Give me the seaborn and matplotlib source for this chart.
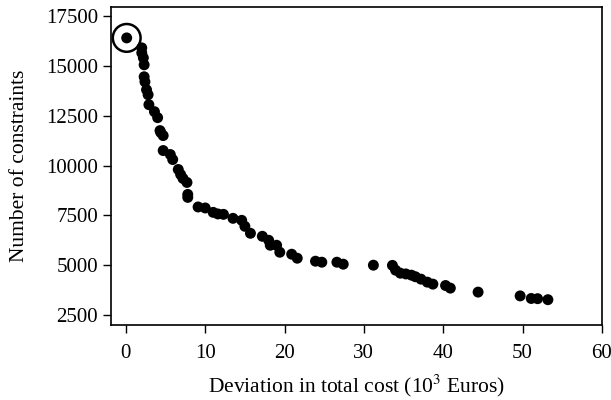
import matplotlib
matplotlib.use("Agg")
import matplotlib.pyplot as plt
import seaborn as sns
import pandas as pd

deviation = [0.1, 2.0, 2.0, 2.2, 2.3, 2.3, 2.4, 2.6, 2.8, 2.9, 3.6, 4.0, 4.3, 4.4, 4.7,
             4.7, 5.6, 5.9, 6.6, 6.9, 7.2, 7.7, 7.8, 7.8, 9.1, 10.0, 11.0, 11.6, 12.3,
             13.5, 14.6, 15.0, 15.7, 17.2, 18.0, 18.2, 19.0, 19.4, 20.9, 21.6, 23.9,
             24.7, 26.6, 27.4, 31.2, 33.6, 34.0, 34.6, 35.3, 36.0, 36.5, 37.2, 38.0,
             38.7, 40.3, 40.9, 44.4, 49.7, 51.1, 51.9, 53.2]
constraints = [16400, 15900, 15650, 15400, 15050, 14450, 14200, 13800, 13550, 13050,
               12700, 12400, 11750, 11650, 11500, 10750, 10550, 10300, 9800, 9550,
               9350, 9150, 8550, 8400, 7920, 7870, 7650, 7570, 7550, 7350, 7250, 6950,
               6600, 6450, 6250, 6000, 6000, 5650, 5550, 5350, 5200, 5150, 5150, 5050,
               5000, 4990, 4750, 4600, 4560, 4500, 4420, 4300, 4150, 4050, 3980, 3850,
               3650, 3460, 3330, 3320, 3270]
highlight_x = [0.1]
highlight_y = [16400]

x_ticks = [0, 10, 20, 30, 40, 50, 60]
y_ticks = [2500, 5000, 7500, 10000, 12500, 15000, 17500]

sns.set_style("ticks")
plt.rcParams['font.family'] = ['Liberation Serif', 'DejaVu Serif']
plt.rcParams['mathtext.fontset'] = 'stix'
plt.rcParams['text.color'] = 'black'
plt.rcParams['axes.labelcolor'] = 'black'

df = pd.DataFrame({"dev": deviation, "cons": constraints})
hl = pd.DataFrame({"dev": highlight_x, "cons": highlight_y})

fig = plt.figure(figsize=(6.11, 4.0), dpi=100)
ax = fig.add_axes([0.181, 0.1875, 0.804, 0.795])
sns.scatterplot(data=df, x="dev", y="cons", ax=ax, color="black", s=62,
                edgecolor="none", legend=False)
sns.scatterplot(data=hl, x="dev", y="cons", ax=ax, s=400, facecolor="none",
                edgecolor="black", linewidth=1.8, legend=False)

ax.set_xlim(-1.93, 60)
ax.set_ylim(2000, 17950)
ax.set_xticks(x_ticks)
ax.set_yticks(y_ticks)
ax.set_xlabel("Deviation in total cost (10$^3$ Euros)", fontsize=15.5, labelpad=7)
ax.set_ylabel("Number of constraints", fontsize=15.5, labelpad=12)
ax.tick_params(axis="both", labelsize=15, length=6, width=1, color="black",
               labelcolor="black", direction="out")
ax.tick_params(axis="x", pad=8)
ax.tick_params(axis="y", pad=3)
for sp in ax.spines.values():
    sp.set_visible(True)
    sp.set_color("black")
    sp.set_linewidth(1.2)

fig.savefig("out.png", dpi=100)
